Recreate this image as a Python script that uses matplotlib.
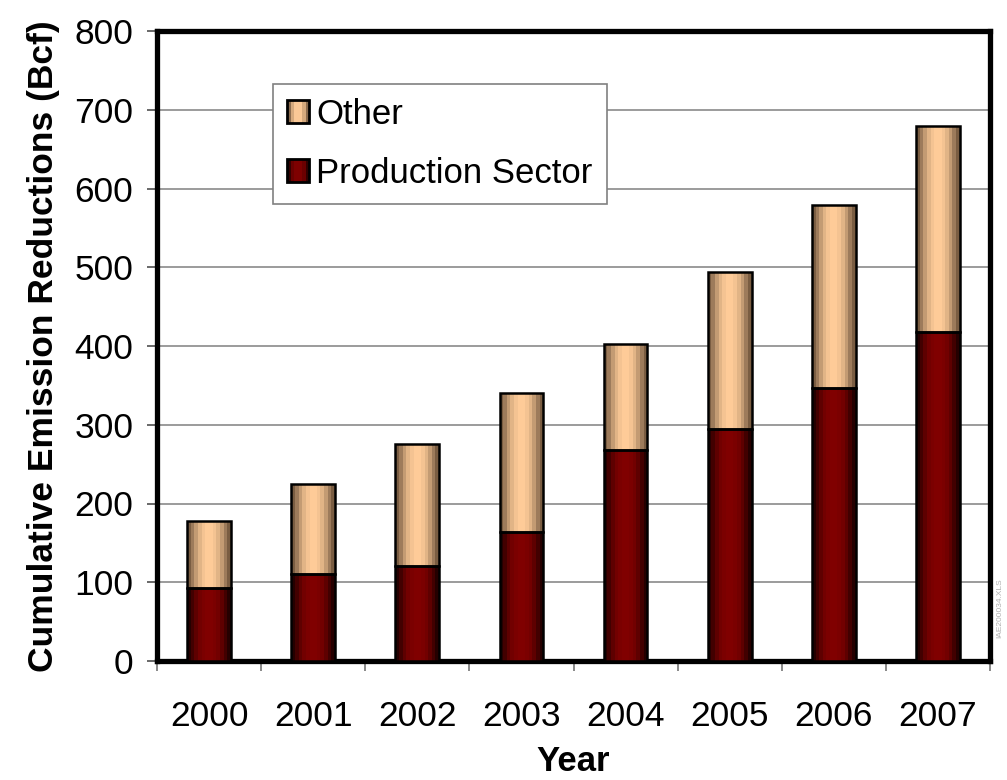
import matplotlib
matplotlib.use("Agg")
import matplotlib.pyplot as plt
import numpy as np
from matplotlib.colors import LinearSegmentedColormap
from matplotlib.legend_handler import HandlerBase
from matplotlib.patches import Rectangle

plt.rcParams['font.family'] = ['Liberation Sans', 'DejaVu Sans']

years = ['2000', '2001', '2002', '2003', '2004', '2005', '2006', '2007']
production = [93, 110, 121, 164, 268, 294, 347, 418]
other = [85, 115, 155, 176, 135, 200, 232, 261]

# dark edge -> light centre of the cylinder-like shading
shades = {
    'Production Sector': ['#1c0000', '#480000', '#6e0000', '#800000'],
    'Other': ['#6e533a', '#a58261', '#d9ad80', '#ffcc99'],
}


def bar_cmap(name):
    return LinearSegmentedColormap.from_list(name, shades[name])


def shade_profile(n=12):
    xs = (np.arange(n) + 0.5) / n
    return np.sin(np.pi * xs) ** 1.3


class StripeHandler(HandlerBase):
    def __init__(self, name):
        super().__init__()
        self.name = name

    def create_artists(self, legend, orig_handle, xdescent, ydescent,
                       width, height, fontsize, trans):
        cm = bar_cmap(self.name)
        prof = shade_profile(6)
        side = min(width, height)
        x0 = -xdescent
        y0 = -ydescent + (height - side) / 2
        arts = []
        w = side / len(prof)
        for i, v in enumerate(prof):
            arts.append(Rectangle((x0 + i * w, y0), w, side, facecolor=cm(v),
                                  edgecolor='none', transform=trans))
        arts.append(Rectangle((x0, y0), side, side, facecolor='none',
                              edgecolor='black', lw=2, transform=trans))
        return arts


fig = plt.figure(figsize=(10.07, 7.8), dpi=100)
ax = fig.add_axes([157 / 1007, 119 / 780, 833 / 1007, 630 / 780])

x = np.arange(len(years))
width = 0.42
bottoms = {'Production Sector': np.zeros(len(years)),
           'Other': np.array(production, dtype=float)}
heights = {'Production Sector': production, 'Other': other}

# each bar is built from narrow vertical bands, then outlined
prof = shade_profile()
sw = width / len(prof)
for name in ['Production Sector', 'Other']:
    cm = bar_cmap(name)
    for i, v in enumerate(prof):
        ax.bar(x - width / 2 + (i + 0.5) * sw, heights[name], sw * 1.02,
               bottom=bottoms[name], color=cm(v), linewidth=0, zorder=3)
    ax.bar(x, heights[name], width, bottom=bottoms[name], facecolor='none',
           edgecolor='black', linewidth=1.8, zorder=4)

ax.set_xlim(-0.5, len(years) - 0.5)
ax.set_ylim(0, 800)
ax.set_yticks(np.arange(0, 801, 100))
ax.yaxis.grid(True, color='#808080', linewidth=1.1, zorder=0)
ax.set_axisbelow(True)

ax.set_xticks(x)
ax.set_xticklabels(years)
ax.set_xticks(np.arange(-0.5, len(years), 1), minor=True)
ax.tick_params(axis='x', which='major', length=0, pad=28, labelsize=25.5)
ax.tick_params(axis='x', which='minor', length=7, width=1.3, color='#808080',
               direction='out')
ax.tick_params(axis='y', length=7, width=1.1, color='#404040', pad=10,
               labelsize=25.5)

for s in ax.spines.values():
    s.set_linewidth(3.8)
    s.set_color('black')

ax.set_xlabel('Year', fontsize=25, fontweight='bold', labelpad=9)
ax.set_ylabel('Cumulative Emission Reductions (Bcf)', fontsize=25.5,
              fontweight='bold', labelpad=10)

dummy_o = Rectangle((0, 0), 1, 1)
dummy_p = Rectangle((0, 0), 1, 1)
leg = ax.legend([dummy_o, dummy_p], ['Other', 'Production Sector'],
                handler_map={dummy_o: StripeHandler('Other'),
                             dummy_p: StripeHandler('Production Sector')},
                loc='upper left', bbox_to_anchor=(273 / 1007, 1 - 84 / 780),
                bbox_transform=fig.transFigure, fontsize=25,
                fancybox=False, framealpha=1, edgecolor='#808080',
                handlelength=0.65, handleheight=0.65, handletextpad=0.2,
                labelspacing=0.75, borderpad=0.4, borderaxespad=0)
leg.get_frame().set_linewidth(1.2)
leg.set_zorder(5)

fig.text(0.993, 0.22, 'IAE200034.XLS', rotation=90, fontsize=6,
         color='#b0b0b0', ha='center', va='center')

fig.savefig('out.png', dpi=100)
